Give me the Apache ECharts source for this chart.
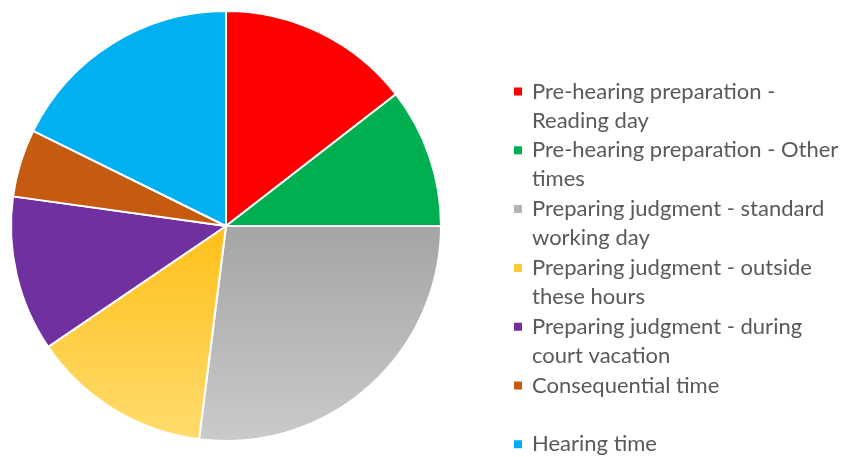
<!DOCTYPE html>
<html>
<head>
<meta charset="utf-8">
<script src="https://cdn.jsdelivr.net/npm/echarts@6/dist/echarts.min.js"></script>
<style>
  html, body { margin: 0; padding: 0; background: #fff; }
  #chart { width: 847px; height: 457px; }
</style>
</head>
<body>
<div id="chart"></div>
<script>
// slice names (legend wraps them on two lines)
const categories = [
  'Pre-hearing preparation -\nReading day',
  'Pre-hearing preparation - Other\ntimes',
  'Preparing judgment - standard\nworking day',
  'Preparing judgment - outside\nthese hours',
  'Preparing judgment - during\ncourt vacation',
  'Consequential time\n ',
  'Hearing time\n '
];
// shares in percent
const values = [14.5, 10.5, 27.0, 13.5, 11.7, 5.1, 17.7];
const colors = ['#ff0000', '#00b050', 'gray', 'yellow', '#7030a0', '#c55a11', '#00b0f0'];
const legendColors = ['#ff0000', '#00b050', '#b3b3b3', '#ffc93a', '#7030a0', '#c55a11', '#00b0f0'];

function fillFor(c) {
  if (c === 'gray') {
    return new echarts.graphic.LinearGradient(0, 226, 0, 441, [
      { offset: 0, color: '#a5a5a5' },
      { offset: 1, color: '#cacaca' }
    ], true);
  }
  if (c === 'yellow') {
    return new echarts.graphic.LinearGradient(0, 226, 0, 440, [
      { offset: 0, color: '#ffc01a' },
      { offset: 1, color: '#ffdc6e' }
    ], true);
  }
  return c;
}

const chart = echarts.init(document.getElementById('chart'));
chart.setOption({
  animation: false,
  legend: {
    orient: 'vertical',
    left: 514,
    top: 77,
    height: 440,
    padding: 0,
    itemWidth: 8,
    itemHeight: 37,
    itemGap: 0.8,
    // square on the first text line; the empty tail keeps it there
    icon: 'path://M0,0h8v8h-8z M0,37h0.01',
    itemStyle: { borderWidth: 0 },
    selectedMode: false,
    data: categories.map((n, i) => ({ name: n, itemStyle: { color: legendColors[i], borderWidth: 0 } })),
    textStyle: {
      fontFamily: 'Lato',
      fontSize: 22,
      color: '#595959',
      lineHeight: 29,
      padding: [0, 0, 0, 5]
    }
  },
  series: [{
    type: 'pie',
    center: [226, 226],
    radius: 215,
    startAngle: 90,
    clockwise: true,
    label: { show: false },
    labelLine: { show: false },
    emphasis: { disabled: true },
    itemStyle: { borderColor: '#ffffff', borderWidth: 2 },
    data: categories.map((n, i) => ({
      name: n,
      value: values[i],
      itemStyle: { color: fillFor(colors[i]) }
    }))
  }]
});
</script>
</body>
</html>
